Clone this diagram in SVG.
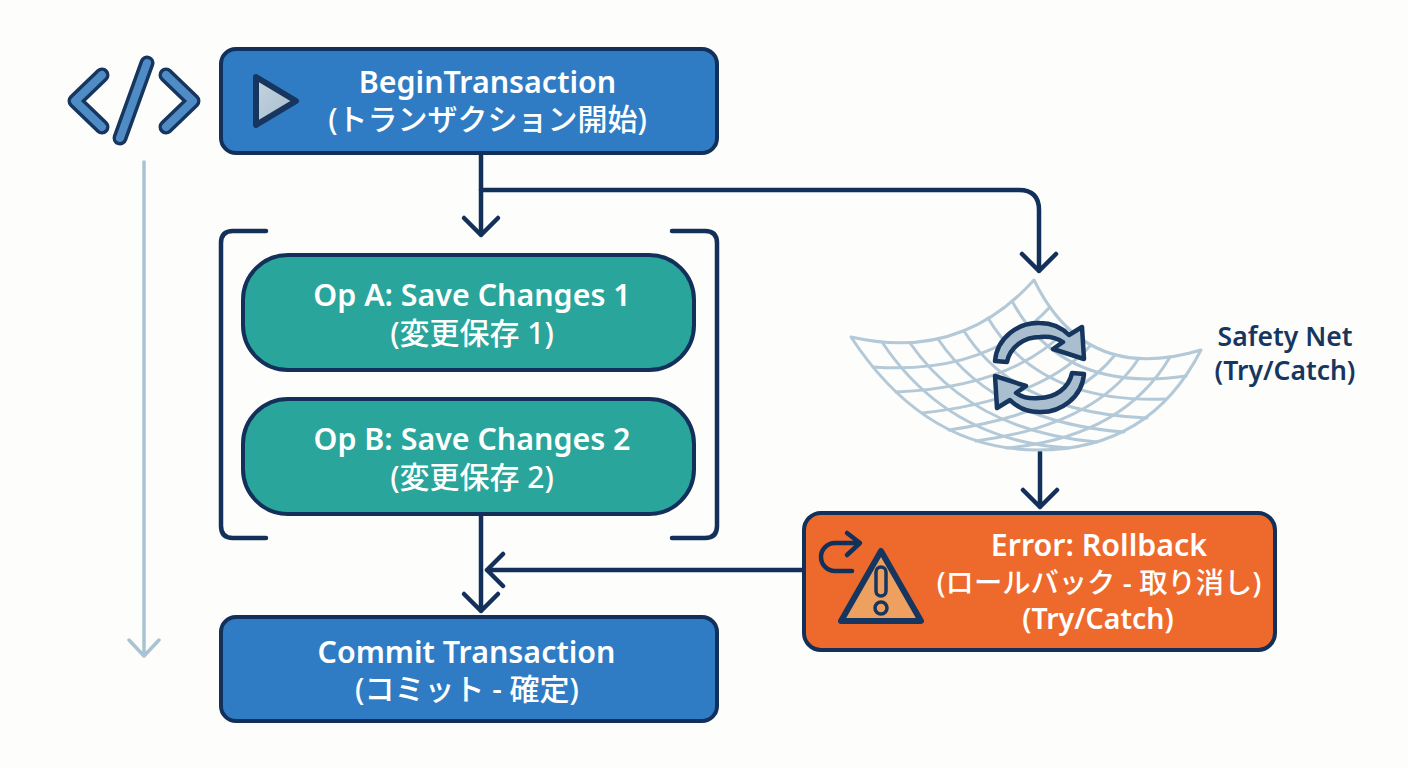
<svg xmlns="http://www.w3.org/2000/svg" width="1408" height="768" viewBox="0 0 1408 768">
<style>
text{font-family:"Noto Sans","Noto Sans CJK JP",sans-serif;font-size:30.400px;font-weight:600;fill:#fff;text-anchor:middle}
.s2{font-size:30px;font-weight:500}.s3{font-size:28.300px;font-weight:500}.s4{font-size:28.500px}
.box{stroke:#12305a;stroke-width:4}
.blue{fill:#2f7cc4}.teal{fill:#2aa59b}.orange{fill:#ee6a2c}
.ln{fill:none;stroke:#12305a;stroke-width:4.5;stroke-linecap:round;stroke-linejoin:round}
.net{fill:none;stroke:#b3c9d8;stroke-width:3;stroke-linecap:round;stroke-linejoin:round}
.tl{fill:none;stroke:#a9c3d2;stroke-width:3.5;stroke-linecap:round;stroke-linejoin:round}
.oc{fill:none;stroke:#17365f;stroke-width:15;stroke-linecap:round;stroke-linejoin:round}
.ic{fill:none;stroke:#4f8cc6;stroke-width:8;stroke-linecap:round;stroke-linejoin:round}
.lab{fill:#17365f;font-size:26.500px}
.ref{fill:#a9bfd0;stroke:#17365f;stroke-width:4.5;stroke-linejoin:round}
</style>
<defs>
<linearGradient id="play" x1="0" y1="0" x2="1" y2="1"><stop offset="0" stop-color="#c6d4de"/><stop offset="1" stop-color="#a5bccd"/></linearGradient>
</defs>
<rect width="1408" height="768" fill="#fdfdfb"/>
<g id="timeline"><path class="tl" d="M144,162V656M129,640L144,656L159,640"/></g>
<g id="code-icon">
<path class="oc" d="M102,75L75,101L102,127M147,63L120,138M166,75L193,101L166,127"/>
<path class="ic" d="M102,75L75,101L102,127M147,63L120,138M166,75L193,101L166,127"/>
</g>
<g id="connectors">
<path class="ln" d="M481,153V235M464,218L481,235L498,218"/>
<path class="ln" d="M481,190H1019Q1039,190 1039,210V271M1022,254L1039,271L1056,254"/>
<path class="ln" d="M1040,452V507M1023,490L1040,507L1057,490"/>
<path class="ln" d="M481,514V611M464,594L481,611L498,594"/>
<path class="ln" d="M804,570H487M503,554L487,570L503,586"/>
</g>
<g id="begin">
<rect class="box blue" x="221" y="49" width="496" height="104" rx="15"/>
<path d="M256,77L296,101L256,125Z" fill="url(#play)" stroke="#17365f" stroke-width="6" stroke-linejoin="round"/>
<text x="487.500" y="93">BeginTransaction</text>
<text class="s2" x="487.500" y="130">(トランザクション開始)</text>
</g>
<g id="transaction-bracket"><path class="ln" d="M266,231H233Q221,231 221,243V526Q221,538 233,538H266M672,231H705Q717,231 717,243V526Q717,538 705,538H672"/></g>
<g id="op-a">
<rect class="box teal" x="243" y="255" width="451" height="115" rx="45"/>
<text x="472" y="306">Op A: Save Changes 1</text>
<text class="s2" x="472" y="344">(変更保存 1)</text>
</g>
<g id="op-b">
<rect class="box teal" x="243" y="399" width="451" height="115" rx="45"/>
<text x="472" y="450">Op B: Save Changes 2</text>
<text class="s2" x="472" y="488">(変更保存 2)</text>
</g>
<g id="commit">
<rect class="box blue" x="221" y="617" width="496" height="104" rx="15"/>
<text x="466.500" y="663">Commit Transaction</text>
<text class="s2" x="467" y="700">(コミット - 確定)</text>
</g>
<g id="safety-net">
<path class="net" d="M1034,280Q960,362 851,337Q925,450 1038,450Q1150,450 1201,350Q1085,385 1034,280Z"/>
<path class="net" d="M882,342Q948,441 1069,448M910,343Q971,431 1097,442M938,339Q994,422 1124,432M964,331Q1016,413 1147,418M988,318Q1039,404 1166,399M1012,301Q1062,394 1186,376"/>
<path class="net" d="M873,367Q987,375 1050,307M896,392Q1014,387 1068,328M922,413Q1041,400 1091,345M949,430Q1069,412 1115,355M976,441Q1096,425 1139,358M1007,448Q1123,437 1170,357"/>
<path class="ref" d="M995,361C997,338 1018,322 1040,323C1052,323 1062,328 1069,335L1082,327L1084,359L1053,349L1063,342C1057,338 1049,336 1040,337C1024,337 1010,347 1007,362Z"/>
<path class="ref" transform="rotate(180 1039.5 367.5)" d="M995,361C997,338 1018,322 1040,323C1052,323 1062,328 1069,335L1082,327L1084,359L1053,349L1063,342C1057,338 1049,336 1040,337C1024,337 1010,347 1007,362Z"/>
<text class="lab" x="1285" y="346">Safety Net</text>
<text class="lab" x="1285" y="380">(Try/Catch)</text>
</g>
<g id="rollback">
<rect class="box orange" x="804" y="513" width="471" height="137" rx="17"/>
<path class="ln" d="M852,571H835A14,14 0 0 1 835,543H859M847,533L860,543L847,555"/>
<path d="M881,551L921,621H841Z" fill="#eda05f" stroke="#17365f" stroke-width="6" stroke-linejoin="round"/>
<rect x="876" y="567" width="10" height="29" rx="5" fill="#eda05f" stroke="#17365f" stroke-width="3.500"/>
<circle cx="881" cy="608" r="6" fill="#eda05f" stroke="#17365f" stroke-width="3.500"/>
<text x="1099" y="556">Error: Rollback</text>
<text class="s3" x="1099" y="592.500">(ロールバック - 取り消し)</text>
<text class="s4" x="1098" y="629">(Try/Catch)</text>
</g>
</svg>
